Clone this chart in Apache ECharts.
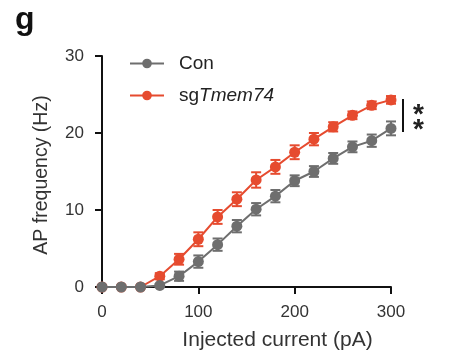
<!DOCTYPE html>
<html>
<head>
<meta charset="utf-8">
<script src="https://cdn.jsdelivr.net/npm/echarts@6/dist/echarts.min.js"></script>
<style>html,body{margin:0;padding:0;background:#fff}#c{width:450px;height:362px}</style>
</head>
<body>
<div id="c"></div>
<script>
var currents = [0, 20, 40, 60, 80, 100, 120, 140, 160, 180, 200, 220, 240, 260, 280, 300];
var conMean = [0, 0, 0, 0.2, 1.4, 3.3, 5.5, 7.9, 10.1, 11.8, 13.8, 15.0, 16.7, 18.2, 19.0, 20.6];
var conErr  = [0, 0, 0, 0.2, 0.6, 0.8, 0.8, 0.8, 0.8, 0.8, 0.7, 0.7, 0.7, 0.7, 0.8, 0.9];
var sgMean  = [0, 0, 0, 1.4, 3.6, 6.2, 9.1, 11.4, 13.9, 15.6, 17.5, 19.2, 20.8, 22.3, 23.6, 24.3];
var sgErr   = [0, 0, 0, 0.4, 0.7, 0.9, 0.9, 0.9, 1.0, 0.9, 0.9, 0.8, 0.6, 0.5, 0.5, 0.5];
var xTicks = [0, 100, 200, 300];
var yTicks = [0, 10, 20, 30];

var GRAY = '#6e6e6e', RED = '#e64b2f';
var FONT = 'Liberation Sans, Arial, sans-serif';

function pairs(m){ return currents.map(function(x,i){ return [x, m[i]]; }); }
function errData(m,e){ return currents.map(function(x,i){ return [x, m[i]-e[i], m[i]+e[i]]; }); }
function errSeries(m,e,color,z){
  return {
    type:'custom', z:z, silent:true,
    data: errData(m,e),
    encode:{x:0,y:[1,2]},
    renderItem:function(params, api){
      var x = api.value(0);
      var lo = api.coord([x, api.value(1)]);
      var hi = api.coord([x, api.value(2)]);
      var w = 5;
      var st = {stroke:color, lineWidth:2};
      return {type:'group', children:[
        {type:'line', shape:{x1:lo[0],y1:lo[1],x2:hi[0],y2:hi[1]}, style:st},
        {type:'line', shape:{x1:lo[0]-w,y1:lo[1],x2:lo[0]+w,y2:lo[1]}, style:st},
        {type:'line', shape:{x1:hi[0]-w,y1:hi[1],x2:hi[0]+w,y2:hi[1]}, style:st}
      ]};
    }
  };
}

var chart = echarts.init(document.getElementById('c'), null, {renderer:'canvas'});
chart.setOption({
  animation:false,
  backgroundColor:'#fff',
  grid:{left:102, right:59, top:56, bottom:75, containLabel:false},
  xAxis:{
    type:'value', min:xTicks[0], max:xTicks[xTicks.length-1], interval:100,
    name:'Injected current (pA)', nameLocation:'middle', nameGap:43,
    nameTextStyle:{fontFamily:FONT, fontSize:21, color:'#333', padding:[0,0,0,62]},
    axisLine:{show:true, onZero:false, lineStyle:{color:'#111', width:2}},
    axisTick:{show:true, length:7, lineStyle:{color:'#111', width:2}},
    axisLabel:{fontFamily:FONT, fontSize:17, color:'#333', margin:17},
    splitLine:{show:false}
  },
  yAxis:{
    type:'value', min:yTicks[0], max:yTicks[yTicks.length-1], interval:10,
    name:'AP frequency (Hz)', nameLocation:'middle', nameGap:50,
    nameTextStyle:{fontFamily:FONT, fontSize:19.5, color:'#333', padding:[0,7,0,0]},
    axisLine:{show:true, lineStyle:{color:'#111', width:2}},
    axisTick:{show:true, length:7, lineStyle:{color:'#111', width:2}},
    axisLabel:{fontFamily:FONT, fontSize:17, color:'#333', margin:18},
    splitLine:{show:false}
  },
  legend:{
    orient:'vertical', left:124, top:49, itemGap:13,
    itemWidth:34, itemHeight:12,
    data:['Con','sgTmem74'],
    textStyle:{fontFamily:FONT, fontSize:19, color:'#222', padding:[0,0,0,10],
      rich:{n:{fontFamily:FONT, fontSize:19, color:'#222'}, i:{fontFamily:FONT, fontSize:19, fontStyle:'italic', color:'#222'}}},
    formatter:function(name){ return name==='sgTmem74' ? '{n|sg}{i|Tmem74}' : '{n|'+name+'}'; }
  },
  series:[
    errSeries(sgMean, sgErr, RED, 2),
    {name:'sgTmem74', type:'line', z:3, data:pairs(sgMean), symbol:'circle', symbolSize:11,
     itemStyle:{color:RED}, lineStyle:{color:RED, width:2}},
    errSeries(conMean, conErr, GRAY, 4),
    {name:'Con', type:'line', z:5, data:pairs(conMean), symbol:'circle', symbolSize:11,
     itemStyle:{color:GRAY}, lineStyle:{color:GRAY, width:2}}
  ],
  graphic:[
    {type:'text', left:15, top:4, style:{text:'g', fontFamily:FONT, fontSize:32, fontWeight:'bold', fill:'#111'}},
    {type:'line', shape:{x1:403, y1:99, x2:403, y2:132}, style:{stroke:'#111', lineWidth:2}},
    {type:'text', x:413, y:108, style:{text:'*\n*', fontFamily:FONT, fontSize:28, fontWeight:'bold', lineHeight:15, fill:'#222'}}
  ]
});
</script>
</body>
</html>
